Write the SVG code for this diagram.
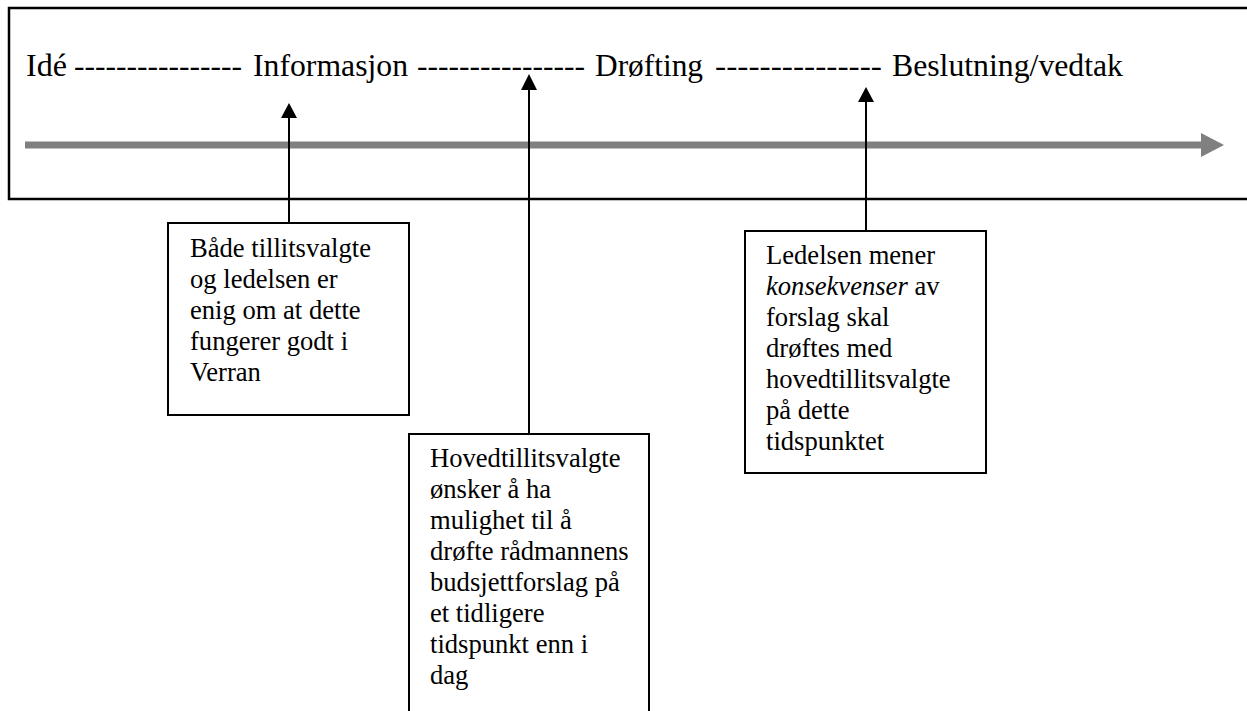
<svg xmlns="http://www.w3.org/2000/svg" width="1247" height="711" viewBox="0 0 1247 711">
<style>
.frame{fill:none;stroke:#000;stroke-width:2.5}
.box{fill:#fff;stroke:#000;stroke-width:2}
.conn{stroke:#000;stroke-width:2;fill:none}
.head{fill:#000}
.top{font-family:"Liberation Serif","Times New Roman",serif;font-size:31px;fill:#000}
.bt{font-family:"Liberation Serif","Times New Roman",serif;font-size:26.6px;fill:#000}
</style>
<rect width="1247" height="711" fill="#fff"/>
<g id="timeline">
<rect class="frame" x="9" y="8" width="1260" height="191"/>
<line x1="25" y1="145" x2="1202" y2="145" stroke="#808080" stroke-width="7"/>
<polygon points="1201,133 1224,145 1201,157" fill="#808080"/>
<text class="top" y="76"><tspan x="26" textLength="41" lengthAdjust="spacingAndGlyphs">Idé</tspan><tspan x="74" textLength="168" lengthAdjust="spacingAndGlyphs">----------------</tspan><tspan x="253" textLength="155" lengthAdjust="spacingAndGlyphs">Informasjon</tspan><tspan x="417" textLength="168" lengthAdjust="spacingAndGlyphs">----------------</tspan><tspan x="595" textLength="108" lengthAdjust="spacingAndGlyphs">Drøfting</tspan><tspan x="715" textLength="167" lengthAdjust="spacingAndGlyphs">---------------</tspan><tspan x="892" textLength="231" lengthAdjust="spacingAndGlyphs">Beslutning/vedtak</tspan></text>
</g>
<g id="connectors">
<line class="conn" x1="289" y1="222" x2="289" y2="116"/>
<polygon class="head" points="281,118 289,103 297,118"/>
<line class="conn" x1="529" y1="434" x2="529" y2="88"/>
<polygon class="head" points="521,90 529,74 537,90"/>
<line class="conn" x1="866" y1="231" x2="866" y2="100"/>
<polygon class="head" points="858,102 866,87 874,102"/>
</g>
<g id="box1">
<rect class="box" x="168" y="223" width="241" height="192"/>
<text class="bt"><tspan x="190" y="257">Både tillitsvalgte</tspan><tspan x="190" y="288">og ledelsen er</tspan><tspan x="190" y="319">enig om at dette</tspan><tspan x="190" y="350">fungerer godt i</tspan><tspan x="190" y="381">Verran</tspan></text>
</g>
<g id="box2">
<rect class="box" x="409" y="434" width="240" height="290"/>
<text class="bt"><tspan x="430" y="467">Hovedtillitsvalgte</tspan><tspan x="430" y="498">ønsker å ha</tspan><tspan x="430" y="529">mulighet til å</tspan><tspan x="430" y="560">drøfte rådmannens</tspan><tspan x="430" y="591">budsjettforslag på</tspan><tspan x="430" y="622">et tidligere</tspan><tspan x="430" y="653">tidspunkt enn i</tspan><tspan x="430" y="684">dag</tspan></text>
</g>
<g id="box3">
<rect class="box" x="745" y="231" width="241" height="242"/>
<text class="bt"><tspan x="766" y="264">Ledelsen mener</tspan><tspan x="766" y="295"><tspan font-style="italic">konsekvenser</tspan> av</tspan><tspan x="766" y="326">forslag skal</tspan><tspan x="766" y="357">drøftes med</tspan><tspan x="766" y="388">hovedtillitsvalgte</tspan><tspan x="766" y="419">på dette</tspan><tspan x="766" y="450">tidspunktet</tspan></text>
</g>
</svg>
